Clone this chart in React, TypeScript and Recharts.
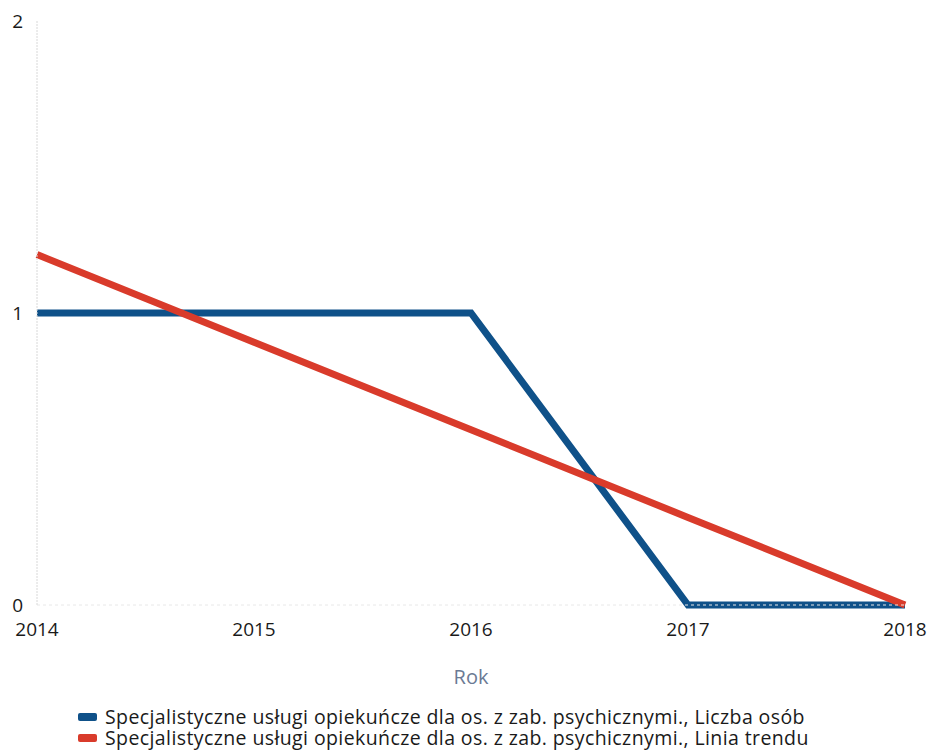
import { Line, LineChart, XAxis, YAxis } from 'recharts';

const years = ['2014', '2015', '2016', '2017', '2018'];
const liczbaOsob = [1, 1, 1, 0, 0];
const liniaTrendu = [1.2, 0.9, 0.6, 0.3, 0];
const yTicks = [0, 1, 2];

const seriesNames = [
  'Specjalistyczne usługi opiekuńcze dla os. z zab. psychicznymi., Liczba osób',
  'Specjalistyczne usługi opiekuńcze dla os. z zab. psychicznymi., Linia trendu',
];
const seriesColors = ['#0f5189', '#d93b2b'];

const data = years.map((year, i) => ({
  year,
  liczba: liczbaOsob[i],
  trend: liniaTrendu[i],
}));

const font = '"Open Sans", sans-serif';

export default function App() {
  return (
    <div style={{ position: 'absolute', left: 0, top: 0, width: 932, height: 756, background: '#fff' }}>
      <LineChart
        width={932}
        height={700}
        data={data}
        margin={{ top: 21, right: 27, bottom: 0, left: 0 }}
      >
        <XAxis
          dataKey="year"
          height={95}
          tickLine={false}
          axisLine={{ stroke: '#e8e8e8', strokeDasharray: '3 3' }}
          tickMargin={12}
          interval={0}
          tick={{ fill: '#1a1a1a', fontSize: 19, fontFamily: font }}
          label={{
            value: 'Rok',
            position: 'insideBottom',
            offset: 16,
            fill: '#6b7a94',
            fontSize: 20,
            fontFamily: font,
          }}
        />
        <YAxis
          width={37}
          domain={[0, 2]}
          ticks={yTicks}
          tickLine={false}
          axisLine={{ stroke: '#d8d8d8', strokeDasharray: '2 1' }}
          tickMargin={8}
          tick={{ fill: '#1a1a1a', fontSize: 19, fontFamily: font }}
        />
        <Line
          type="linear"
          dataKey="liczba"
          stroke={seriesColors[0]}
          strokeWidth={7}
          dot={false}
          isAnimationActive={false}
        />
        <Line
          type="linear"
          dataKey="trend"
          stroke={seriesColors[1]}
          strokeWidth={7}
          dot={false}
          isAnimationActive={false}
        />
      </LineChart>
      <div
        style={{
          position: 'absolute',
          left: 78,
          top: 706,
          fontFamily: font,
          fontSize: 19.5,
          letterSpacing: 0.4,
          color: '#1a1a1a',
          lineHeight: '21px',
        }}
      >
        {seriesNames.map((name, i) => (
          <div key={name} style={{ display: 'flex', alignItems: 'center', height: 21 }}>
            <span
              style={{
                display: 'inline-block',
                width: 19,
                height: 8,
                borderRadius: 2,
                background: seriesColors[i],
                marginRight: 8,
              }}
            />
            {name}
          </div>
        ))}
      </div>
    </div>
  );
}
